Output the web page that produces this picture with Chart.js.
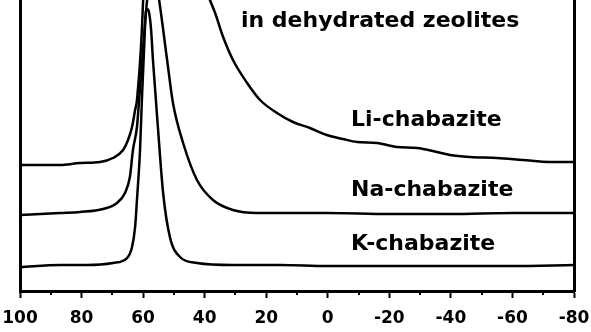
<!DOCTYPE html>
<html>
<head>
<meta charset="utf-8">
<script src="https://cdn.jsdelivr.net/npm/chart.js@4/dist/chart.umd.min.js"></script>
<style>
  html, body { margin: 0; padding: 0; background: #fff; }
  canvas { display: block; }
</style>
</head>
<body>
<canvas id="nmrChart" width="591" height="332"></canvas>
<script>
// chemical shift (ppm) and intensity (arb. units, offset per sample)
const liShift = [100, 87.0, 80.5, 74.0, 69.8, 66.5, 64.9, 63.6, 62.6, 62.0, 60.0, 59.0, 50, 42, 38.3, 36.6, 34.0, 30.8, 26.2, 22.0, 16.5, 11.3, 5.8, 0.3, -4.9, -9.5, -16.0, -22.5, -29.0, -35.5, -39.7, -46.2, -55.0, -63.4, -72.2, -80];
const liInt = [126, 126, 128, 129, 133, 141, 151, 164, 181, 191, 291, 420, 370, 320, 291, 278, 254, 231, 208, 191, 178, 169, 163, 156, 152, 149, 148, 144, 143, 139, 136, 134, 133, 131, 129, 129];

const naShift = [100, 87.0, 80.5, 73.0, 68.5, 65.9, 64.3, 63.3, 62.0, 61.3, 58.7, 57.0, 54.8, 52.2, 50.3, 47.0, 42.5, 37.3, 30.8, 23.0, 15.5, 0, -20, -40, -60, -80];
const naInt = [76, 78, 79, 82, 88, 98, 114, 141, 164, 191, 291, 330, 291, 231, 188, 148, 111, 91, 81, 78, 78, 78, 77, 77, 78, 78];

const kShift = [100, 87.0, 78.2, 69.8, 65.2, 63.6, 62.6, 62.0, 61.0, 60.4, 59.7, 59.1, 58.7, 58.1, 57.4, 56.8, 55.2, 53.5, 51.3, 48.0, 42.5, 30.8, 15.5, 0, -20, -40, -60, -80];
const kInt = [24, 26, 26, 28, 33, 44, 64, 91, 141, 191, 241, 279, 282, 279, 261, 231, 164, 98, 54, 34, 28, 26, 26, 25, 25, 25, 25, 26];

const sampleNames = ['Li-chabazite', 'Na-chabazite', 'K-chabazite'];
const xTicks = [100, 80, 60, 40, 20, 0, -20, -40, -60, -80];

function toPoints(xs, ys) {
    return xs.map((x, i) => ({ x: x, y: ys[i] }));
}

const lineStyle = {
    borderColor: '#000',
    borderWidth: 2.5,
    pointRadius: 0,
    fill: false,
    cubicInterpolationMode: 'monotone'
};

const labelText = {
    id: 'labelText',
    afterDraw: (chart) => {
        const ctx = chart.ctx;
        ctx.save();
        ctx.fillStyle = '#000';
        ctx.textBaseline = 'alphabetic';
        ctx.font = 'bold 22px "DejaVu Sans"';
        ctx.fillText('in dehydrated zeolites', 241, 27);
        ctx.fillText(sampleNames[0], 351, 126);
        ctx.fillText(sampleNames[1], 351, 196);
        ctx.fillText(sampleNames[2], 351, 250);
        ctx.restore();
    }
};

const minorTicks = {
    id: 'minorTicks',
    afterDraw: (chart) => {
        const xs = chart.scales.x;
        const ctx = chart.ctx;
        ctx.save();
        ctx.strokeStyle = '#000';
        ctx.lineWidth = 2;
        for (let v = -70; v < 100; v += 20) {
            const px = Math.round(xs.getPixelForValue(v));
            ctx.beginPath();
            ctx.moveTo(px, xs.top);
            ctx.lineTo(px, xs.top + 4);
            ctx.stroke();
        }
        ctx.restore();
    }
};

const ctx = document.getElementById('nmrChart').getContext('2d');
const nmrChart = new Chart(ctx, {
    type: 'line',
    data: {
        datasets: [
            Object.assign({ label: sampleNames[0], data: toPoints(liShift, liInt) }, lineStyle),
            Object.assign({ label: sampleNames[1], data: toPoints(naShift, naInt) }, lineStyle),
            Object.assign({ label: sampleNames[2], data: toPoints(kShift, kInt) }, lineStyle)
        ]
    },
    options: {
        responsive: false,
        animation: false,
        devicePixelRatio: 1,
        layout: { padding: 0 },
        scales: {
            x: {
                type: 'linear',
                reverse: true,
                min: -80,
                max: 100,
                afterBuildTicks: (scale) => {
                    scale.ticks = xTicks.map(v => ({ value: v }));
                },
                afterFit: (scale) => {
                    scale.height = 41;
                    scale.paddingLeft = 0;
                    scale.paddingRight = 0;
                },
                ticks: {
                    autoSkip: false,
                    maxRotation: 0,
                    padding: 10,
                    color: '#000',
                    font: { family: 'DejaVu Sans', weight: 'bold', size: 17 }
                },
                grid: {
                    drawOnChartArea: false,
                    tickLength: 7,
                    tickWidth: 2,
                    tickColor: '#000'
                },
                border: { display: true, color: '#000', width: 3 }
            },
            y: {
                min: 0,
                max: 291,
                position: 'left',
                afterFit: (scale) => { scale.width = 20; },
                ticks: { display: false },
                grid: { display: false },
                border: { display: true, color: '#000', width: 3 }
            },
            y2: {
                display: true,
                min: 0,
                max: 291,
                position: 'right',
                afterFit: (scale) => { scale.width = 17; },
                ticks: { display: false },
                grid: { display: false },
                border: { display: true, color: '#000', width: 3 }
            }
        },
        plugins: {
            legend: { display: false },
            tooltip: { enabled: false },
            title: { display: false }
        }
    },
    plugins: [{
        id: 'customBackgroundColor',
        beforeDraw: (chart) => {
            const c = chart.ctx;
            c.save();
            c.fillStyle = 'white';
            c.fillRect(0, 0, chart.width, chart.height);
            c.restore();
        }
    }, minorTicks, labelText]
});
</script>
</body>
</html>
